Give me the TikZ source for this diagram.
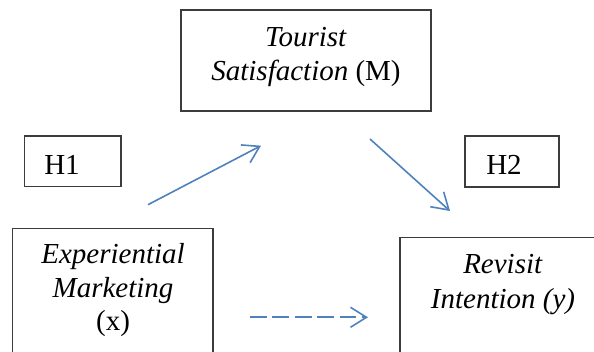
\documentclass[tikz,border=0pt]{standalone}
\usepackage{fontspec}
\setmainfont{Liberation Serif}
\usetikzlibrary{arrows.meta}
\definecolor{arrowblue}{RGB}{79,129,189}
\definecolor{boxline}{RGB}{60,60,60}
\tikzset{
  boxnode/.style={draw=boxline, line width=1.3pt, rectangle, inner sep=0pt},
  txt/.style={anchor=base, inner sep=0pt, font=\fontsize{29}{33}\selectfont},
  conn/.style={draw=arrowblue, line width=1.6pt, -{Straight Barb[length=16pt,width=20pt,line width=1.6pt]}},
  dashconn/.style={conn, dash pattern=on 16.7pt off 5.7pt}
}
\begin{document}
\begin{tikzpicture}[x=1pt,y=1pt]
\useasboundingbox (0,0) rectangle (594,352);
\clip (0,0) rectangle (594,352);
% boxes
\node[boxnode, minimum width=250pt, minimum height=101pt] (ts) at (306,291.5) {};
\node[boxnode, minimum width=96.5pt, minimum height=50.7pt] (h1) at (72.75,190.65) {};
\node[boxnode, minimum width=94pt, minimum height=51pt] (h2) at (512,190.5) {};
\node[boxnode, minimum width=200.3pt, minimum height=140pt] (em) at (112.85,53.7) {};
\node[boxnode, minimum width=210pt, minimum height=130pt] (ri) at (505,49.3) {};
% texts
\node[txt] (ts1) at (306,305.3) {\textit{Tourist}};
\node[txt] (ts2) at (306,271.5) {\textit{Satisfaction} (M)};
\node[txt] (h1t) at (62,177) {H1};
\node[txt] (h2t) at (504,177) {H2};
\node[txt] (em1) at (113,88) {\textit{Experiential}};
\node[txt] (em2) at (113,54.3) {\textit{Marketing}};
\node[txt] (em3) at (113,21) {(x)};
\node[txt] (ri1) at (503,78) {\textit{Revisit}};
\node[txt] (ri2) at (503,43.5) {\textit{Intention (y)}};
% connector end points
\coordinate (a1s) at (148,147.3);
\coordinate (a1e) at (261,206.3);
\coordinate (a2s) at (370,213);
\coordinate (a2e) at (450,141);
\coordinate (a3s) at (250,34.7);
\coordinate (a3e) at (368,34.7);
\draw[conn] (a1s) -- (a1e);
\draw[conn] (a2s) -- (a2e);
\draw[dashconn] (a3s) -- (a3e);
\end{tikzpicture}
\end{document}
